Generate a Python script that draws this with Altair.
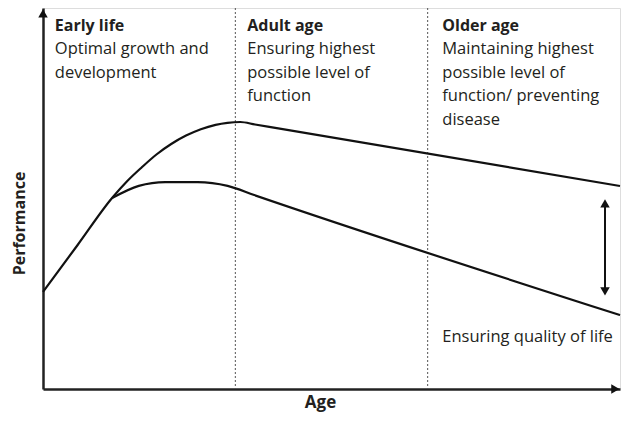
import altair as alt
import pandas as pd

# ---- data (age 0-100, performance 0-100) ----
ages_upper = [0, 6, 11.97, 14.53, 17.09, 19.66, 22.22, 24.79, 27.35, 29.91, 31.97, 34.19, 36.75, 40.51, 100]
perf_upper = [25.5, 37.8, 50.13, 54.46, 58.14, 61.55, 64.30, 66.51, 68.19, 69.34, 69.87, 70.08, 69.42, 68.45, 53.28]
ages_lower = [11.97, 16.6, 21.2, 26.8, 32.0, 36.6, 100]
perf_lower = [50.1, 53.3, 54.3, 54.3, 53.3, 50.9, 19.4]
stage_bounds = [100 / 3, 200 / 3]

stage_titles = ["Early life", "Adult age", "Older age"]
stage_desc = [
    "Optimal growth and\ndevelopment",
    "Ensuring highest\npossible level of\nfunction",
    "Maintaining highest\npossible level of\nfunction/ preventing\ndisease",
]
stage_x = [2.05, 35.4, 69.2]
title_y = [94.0, 94.0, 94.0]
desc_y = [87.8, 87.8, 87.8]

gap_label = ["Ensuring quality of life"]
gap_x = [69.2]
gap_y = [12.3]
gap_arrow_x = 97.4
gap_arrow_range = [26.0, 48.6]

FONT = "Open Sans"
TXT = "#231f20"

xs = alt.Scale(domain=[0, 100], nice=False, zero=False)
ys = alt.Scale(domain=[0, 100], nice=False, zero=False)

curves = pd.DataFrame(
    {"age": ages_upper + ages_lower,
     "perf": perf_upper + perf_lower,
     "series": ["upper"] * len(ages_upper) + ["lower"] * len(ages_lower),
     "order": list(range(len(ages_upper))) + list(range(len(ages_lower)))}
)

base_axes = alt.Chart(pd.DataFrame({"age": [0], "perf": [0]})).mark_point(opacity=0).encode(
    x=alt.X("age:Q", scale=xs, axis=alt.Axis(
        title="Age", labels=False, ticks=False, grid=False, domain=True,
        domainColor="#222", domainWidth=2.5, titleFont=FONT, titleFontSize=17,
        titleFontWeight="bold", titleColor=TXT, titleX=277, titleY=13,
        titleAlign="center", titleBaseline="middle")),
    y=alt.Y("perf:Q", scale=ys, axis=alt.Axis(
        title="Performance", labels=False, ticks=False, grid=False, domain=True,
        domainColor="#222", domainWidth=2.5, titleFont=FONT, titleFontSize=16,
        titleFontWeight="bold", titleColor=TXT, titleX=-24, titleY=215,
        titleAlign="center", titleBaseline="middle", titleAngle=270)),
)

dividers = alt.Chart(pd.DataFrame({"age": stage_bounds})).mark_rule(
    color="#555", strokeDash=[2, 2], strokeWidth=1
).encode(x=alt.X("age:Q", scale=xs), y=alt.value(0), y2=alt.value(381))

lines = alt.Chart(curves).mark_line(
    color="#111", strokeWidth=2.2, interpolate="monotone"
).encode(
    x=alt.X("age:Q", scale=xs),
    y=alt.Y("perf:Q", scale=ys),
    detail="series:N",
    order="order:Q",
)

arrows = pd.DataFrame({
    "age": [0, 99.2, gap_arrow_x, gap_arrow_x],
    "perf": [98.6, 0, 48.7, 25.6],
    "shape": ["triangle-up", "triangle-right", "triangle-up", "triangle-down"],
})
heads = alt.Chart(arrows).mark_point(filled=True, color="#111", size=90, opacity=1).encode(
    x=alt.X("age:Q", scale=xs),
    y=alt.Y("perf:Q", scale=ys),
    shape=alt.Shape("shape:N", scale=None),
)

gap_rule = alt.Chart(pd.DataFrame({"age": [gap_arrow_x], "p1": [gap_arrow_range[0]], "p2": [gap_arrow_range[1]]})).mark_rule(
    color="#111", strokeWidth=2
).encode(x=alt.X("age:Q", scale=xs), y=alt.Y("p1:Q", scale=ys), y2="p2:Q")

stages_df = pd.DataFrame({"age": stage_x, "ty": title_y, "dy": desc_y,
                          "title": stage_titles, "desc": stage_desc})
titles = alt.Chart(stages_df).mark_text(
    align="left", baseline="alphabetic", font=FONT, fontSize=16, fontWeight="bold", color=TXT
).encode(x=alt.X("age:Q", scale=xs), y=alt.Y("ty:Q", scale=ys), text="title:N")

descs = alt.Chart(stages_df).mark_text(
    align="left", baseline="alphabetic", font=FONT, fontSize=16.5, color=TXT,
    lineBreak="\n", lineHeight=23.5
).encode(x=alt.X("age:Q", scale=xs), y=alt.Y("dy:Q", scale=ys), text="desc:N")

gap_text = alt.Chart(pd.DataFrame({"age": gap_x, "perf": gap_y, "t": gap_label})).mark_text(
    align="left", baseline="alphabetic", font=FONT, fontSize=16.5, color=TXT
).encode(x=alt.X("age:Q", scale=xs), y=alt.Y("perf:Q", scale=ys), text="t:N")

chart = alt.layer(base_axes, dividers, lines, gap_rule, heads, titles, descs, gap_text).properties(
    width=577, height=381,
    autosize=alt.AutoSizeParams(type="none"),
    padding={"left": 35, "top": 0, "right": 2, "bottom": 24},
).configure_view(stroke=None).configure(background="white")

chart.save("out.html", embed_options={"renderer": "svg", "actions": False})
